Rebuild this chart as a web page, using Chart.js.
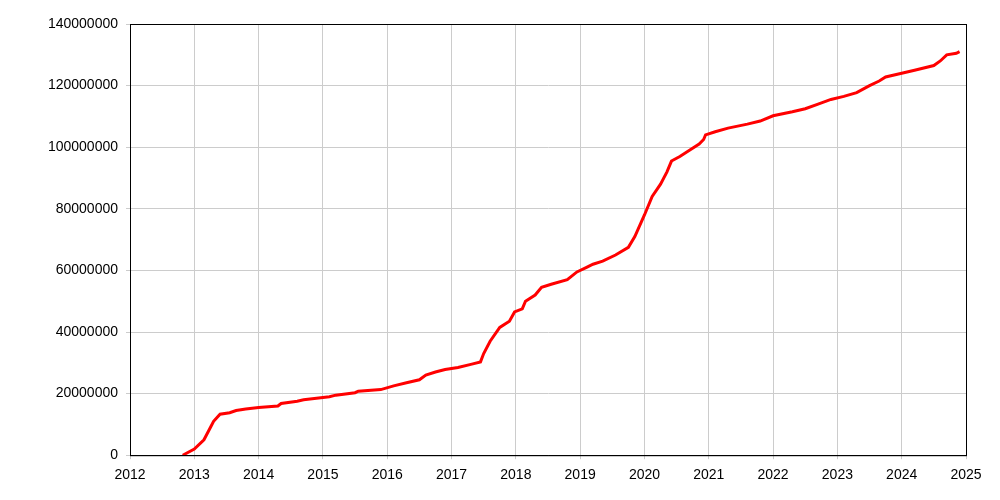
<!DOCTYPE html><html><head><style>body{margin:0;background:#fff}#w{width:1000px;height:500px}</style>
<script src="https://cdn.jsdelivr.net/npm/chart.js"></script></head><body><div id="w"><canvas id="c"></canvas></div><script>
const years=[2012.82,2013.0,2013.15,2013.25,2013.3,2013.4,2013.55,2013.65,2013.8,2014.0,2014.3,2014.35,2014.6,2014.7,2014.9,2015.1,2015.2,2015.5,2015.55,2015.9,2016.1,2016.3,2016.5,2016.6,2016.75,2016.9,2017.1,2017.3,2017.45,2017.5,2017.6,2017.75,2017.9,2017.98,2018.1,2018.15,2018.3,2018.4,2018.55,2018.8,2018.95,2019.1,2019.2,2019.35,2019.55,2019.75,2019.85,2020.0,2020.12,2020.25,2020.35,2020.42,2020.55,2020.7,2020.85,2020.92,2020.95,2021.1,2021.3,2021.6,2021.8,2022.0,2022.3,2022.5,2022.7,2022.9,2023.1,2023.3,2023.5,2023.65,2023.75,2024.0,2024.2,2024.5,2024.6,2024.7,2024.85,2024.9];
const millions=[0,2,5,9,11,13.3,13.8,14.5,15,15.5,16,16.8,17.5,18,18.5,19,19.5,20.3,20.8,21.3,22.5,23.5,24.5,26,27,27.8,28.5,29.5,30.3,33,37,41.5,43.5,46.5,47.5,50,52,54.5,55.5,57,59.5,61,62,63,65,67.5,71,78,84,88,92,95.5,97,99,101,102.5,104,105,106.2,107.5,108.5,110.2,111.5,112.5,114,115.5,116.5,117.7,120,121.5,122.8,124,125,126.5,128,130,130.5,131];
const pts=years.map((x,i)=>({x,y:millions[i]*1e6}));
const f={family:'Liberation Sans, Arial',size:14};
const box={id:'box',afterDraw(c){const a=c.chartArea,x=c.ctx;x.save();x.strokeStyle='#000';x.lineWidth=1;x.strokeRect(a.left+0.5,a.top+0.5,a.right-a.left,a.bottom-a.top);x.restore();}};
new Chart(document.getElementById('c'),{type:'line',data:{datasets:[{data:pts,borderColor:'#ff0000',borderWidth:3,pointRadius:0,tension:0}]},
plugins:[box],
options:{animation:false,responsive:true,maintainAspectRatio:false,layout:{padding:{top:24,right:34,bottom:8,left:0}},
plugins:{legend:{display:false},tooltip:{enabled:false}},
scales:{x:{type:'linear',min:2012,max:2025,ticks:{stepSize:1,color:'#000',font:f,padding:8,callback:v=>String(v)},grid:{color:'#cccccc',tickLength:4},border:{color:'#000',width:1}},
y:{min:0,max:140000000,ticks:{stepSize:20000000,color:'#000',font:f,padding:8,callback:v=>String(v)},grid:{color:'#cccccc',tickLength:4},border:{color:'#000',width:1},afterFit:s=>{s.width=130}}}}});
</script></body></html>
